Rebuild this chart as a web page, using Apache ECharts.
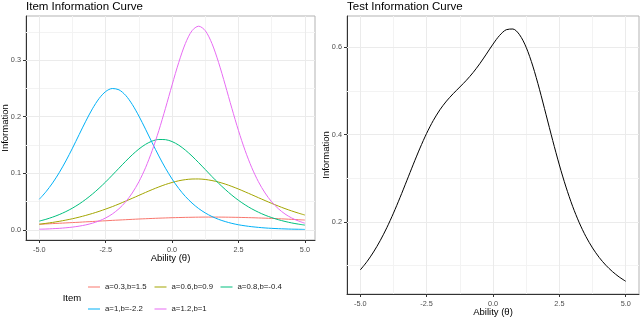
<!DOCTYPE html>
<html>
<head>
<meta charset="utf-8">
<script src="https://cdn.jsdelivr.net/npm/echarts@6/dist/echarts.min.js"></script>
<style>
html,body{margin:0;padding:0;background:#fff;}
#c{width:640px;height:319px;}
</style>
</head>
<body>
<div id="c"></div>
<script>
// ---- data ----
var theta = [-5,-4.75,-4.5,-4.25,-4,-3.75,-3.5,-3.25,-3,-2.75,-2.5,-2.25,-2,-1.75,-1.5,-1.25,-1,-0.75,-0.5,-0.25,0,0.25,0.5,0.75,1,1.25,1.5,1.75,2,2.25,2.5,2.75,3,3.25,3.5,3.75,4,4.25,4.5,4.75,5];
var itemNames = ['a=0.3,b=1.5','a=0.6,b=0.9','a=0.8,b=-0.4','a=1,b=-2.2','a=1.2,b=1'];
var item1 = [0.0098,0.0104,0.0110,0.0116,0.0122,0.0128,0.0134,0.0141,0.0147,0.0154,0.0160,0.0167,0.0173,0.0179,0.0185,0.0191,0.0196,0.0201,0.0206,0.0210,0.0214,0.0217,0.0220,0.0222,0.0224,0.0225,0.0225,0.0225,0.0224,0.0222,0.0220,0.0217,0.0214,0.0210,0.0206,0.0201,0.0196,0.0191,0.0185,0.0179,0.0173];
var item2 = [0.0099,0.0114,0.0131,0.0150,0.0172,0.0196,0.0224,0.0255,0.0289,0.0326,0.0367,0.0410,0.0457,0.0507,0.0557,0.0609,0.0661,0.0711,0.0758,0.0801,0.0837,0.0867,0.0887,0.0898,0.0899,0.0890,0.0871,0.0844,0.0809,0.0767,0.0721,0.0671,0.0620,0.0568,0.0517,0.0467,0.0420,0.0375,0.0334,0.0296,0.0261];
var item3 = [0.0154,0.0186,0.0224,0.0269,0.0322,0.0384,0.0456,0.0539,0.0632,0.0735,0.0847,0.0967,0.1089,0.1211,0.1326,0.1428,0.1511,0.1569,0.1597,0.1594,0.1560,0.1497,0.1409,0.1304,0.1187,0.1065,0.0942,0.0824,0.0714,0.0612,0.0521,0.0441,0.0371,0.0311,0.0259,0.0216,0.0179,0.0148,0.0122,0.0101,0.0083];
var item4 = [0.0540,0.0672,0.0828,0.1010,0.1217,0.1444,0.1683,0.1920,0.2139,0.2320,0.2445,0.2498,0.2475,0.2378,0.2217,0.2011,0.1779,0.1539,0.1306,0.1090,0.0898,0.0731,0.0590,0.0473,0.0376,0.0298,0.0235,0.0185,0.0146,0.0114,0.0089,0.0070,0.0055,0.0043,0.0033,0.0026,0.0020,0.0016,0.0012,0.0010,0.0007];
var item5 = [0.0011,0.0014,0.0020,0.0026,0.0036,0.0048,0.0065,0.0087,0.0117,0.0157,0.0210,0.0280,0.0373,0.0494,0.0651,0.0850,0.1098,0.1400,0.1753,0.2148,0.2562,0.2959,0.3294,0.3520,0.3600,0.3520,0.3294,0.2959,0.2562,0.2148,0.1753,0.1400,0.1098,0.0850,0.0651,0.0494,0.0373,0.0280,0.0210,0.0157,0.0117];
var testInfo = [0.0901,0.1089,0.1312,0.1571,0.1868,0.2201,0.2562,0.2941,0.3323,0.3691,0.4028,0.4322,0.4568,0.4768,0.4936,0.5089,0.5245,0.5420,0.5621,0.5843,0.6071,0.6271,0.6401,0.6417,0.6286,0.5998,0.5569,0.5038,0.4453,0.3864,0.3304,0.2799,0.2357,0.1981,0.1665,0.1404,0.1187,0.1009,0.0863,0.0741,0.0641];
var xTicks = [-5,-2.5,0,2.5,5];
var xMinor = [-3.75,-1.25,1.25,3.75];
var leftYTicks = [0,0.1,0.2,0.3];
var leftYMinor = [0.05,0.15,0.25,0.35];
var rightYTicks = [0.2,0.4,0.6];
var rightYMinor = [0.1,0.3,0.5];

var itemValues = [item1,item2,item3,item4,item5];
var colors = ['#F8766D','#A3A500','#00BF7D','#00B0F6','#E76BF3'];
var FONT = 'Liberation Sans, Arial, Helvetica, sans-serif';

function pairs(ys){ return theta.map(function(t,i){ return [t, ys[i]]; }); }
function gridLines(xMaj, xMin, yMaj, yMin){
  var d = [];
  xMin.forEach(function(v){ d.push({xAxis:v, lineStyle:{color:'#F3F3F3',width:1,type:'solid'}}); });
  yMin.forEach(function(v){ d.push({yAxis:v, lineStyle:{color:'#F3F3F3',width:1,type:'solid'}}); });
  xMaj.forEach(function(v){ d.push({xAxis:v, lineStyle:{color:'#EBEBEB',width:1,type:'solid'}}); });
  yMaj.forEach(function(v){ d.push({yAxis:v, lineStyle:{color:'#EBEBEB',width:1,type:'solid'}}); });
  return d;
}
function gridSeries(idx, yMaj, yMin){
  return {type:'line', xAxisIndex:idx, yAxisIndex:idx, data:[], z:1, silent:true,
    markLine:{silent:true, z:1, symbol:['none','none'], label:{show:false}, emphasis:{disabled:true},
      animation:false, data: gridLines(xTicks, xMinor, yMaj, yMin)}};
}
function xAxisCfg(idx, min, max, gap){
  return {gridIndex:idx, type:'value', min:min, max:max,
    name:'Ability (\u03b8)', nameLocation:'middle', nameGap:gap, nameMoveOverlap:false,
    nameTextStyle:{fontSize:9.5, color:'#000', fontFamily:FONT},
    axisLine:{show:true, onZero:false, lineStyle:{color:'#333', width:1}},
    axisTick:{show:true, length:3, customValues:xTicks, lineStyle:{color:'#333'}},
    axisLabel:{customValues:xTicks, formatter:function(v){return v.toFixed(1);}, fontSize:7.3, color:'#4D4D4D', margin:6.5, fontFamily:FONT},
    splitLine:{show:false}};
}
function yAxisCfg(idx, min, max, ticks){
  return {gridIndex:idx, type:'value', min:min, max:max,
    name:'Information', nameLocation:'middle', nameGap:16, nameMoveOverlap:false,
    nameTextStyle:{fontSize:9.5, color:'#000', fontFamily:FONT},
    axisLine:{show:true, onZero:false, lineStyle:{color:'#333', width:1}},
    axisTick:{show:true, length:3, customValues:ticks, lineStyle:{color:'#333'}},
    axisLabel:{customValues:ticks, formatter:function(v){return v.toFixed(1);}, fontSize:7.3, color:'#4D4D4D', margin:5, fontFamily:FONT},
    splitLine:{show:false}};
}

var series = [gridSeries(0, leftYTicks, leftYMinor), gridSeries(1, rightYTicks, rightYMinor)];
itemValues.forEach(function(vals, i){
  series.push({type:'line', name:itemNames[i], xAxisIndex:0, yAxisIndex:0, z:10,
    data:pairs(vals), smooth:0.3, showSymbol:false, symbol:'none',
    lineStyle:{color:colors[i], width:1}, itemStyle:{color:colors[i]}});
});
series.push({type:'line', name:'Test', xAxisIndex:1, yAxisIndex:1, z:10,
  data:pairs(testInfo), smooth:0.3, showSymbol:false, symbol:'none',
  lineStyle:{color:'#000', width:1}, itemStyle:{color:'#000'}});

var legendPos = [[88,283],[154.5,283],[220.5,283],[88,305],[154.5,305]];
var legends = itemNames.map(function(n,i){
  return {data:[{name:n, itemStyle:{color:colors[i]}}], left:legendPos[i][0], top:legendPos[i][1], padding:0, orient:'horizontal',
    icon:'rect', itemWidth:12, itemHeight:1, selectedMode:false,
    textStyle:{fontSize:7.8, color:'#1A1A1A', fontFamily:FONT}};
});

var chart = echarts.init(document.getElementById('c'), null, {renderer:'canvas'});
chart.setOption({
  animation:false,
  textStyle:{fontFamily:FONT},
  title:[
    {text:'Item Information Curve', left:26, top:0.5, padding:0, textStyle:{fontSize:11.5, fontWeight:'normal', color:'#000', fontFamily:FONT}},
    {text:'Test Information Curve', left:347, top:0.5, padding:0, textStyle:{fontSize:11.5, fontWeight:'normal', color:'#000', fontFamily:FONT}}
  ],
  grid:[
    {left:26, top:16, width:289, height:224, show:true, borderColor:'#B3B3B3', borderWidth:1, backgroundColor:'transparent', containLabel:false, outerBoundsMode:'none'},
    {left:347, top:16, width:292, height:278, show:true, borderColor:'#B3B3B3', borderWidth:1, backgroundColor:'transparent', containLabel:false, outerBoundsMode:'none'}
  ],
  xAxis:[xAxisCfg(0,-5.5,5.38,13), xAxisCfg(1,-5.5,5.5,13.5)],
  yAxis:[yAxisCfg(0,-0.018,0.378,leftYTicks), yAxisCfg(1,0.035,0.6715,rightYTicks)],
  legend:legends,
  graphic:[{type:'text', left:62.7, top:293, style:{text:'Item', fill:'#000', font:'9.5px ' + FONT}}],
  series:series
});
</script>
</body>
</html>
